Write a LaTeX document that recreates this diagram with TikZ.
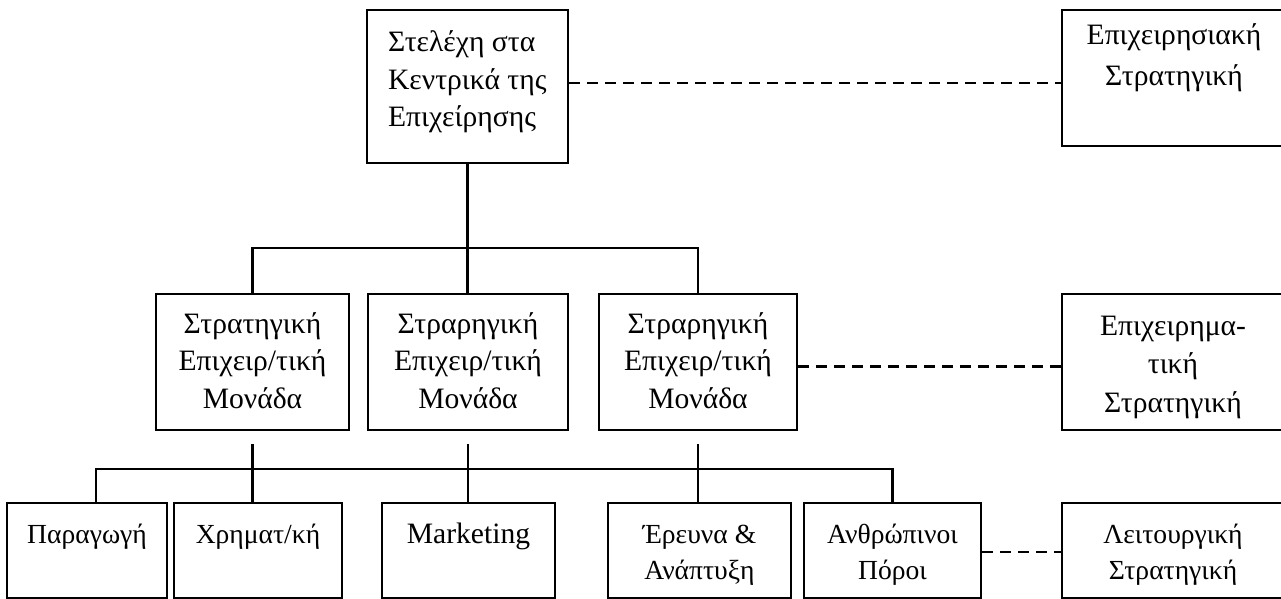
\documentclass[tikz,border=0pt]{standalone}
\usepackage{fontspec}
\setmainfont{Liberation Serif}
\usetikzlibrary{fit}
\begin{document}
% Coordinates are given in pixel-like units (0.5pt each), y pointing down.
% Text nodes are placed by the baseline of their last line.
\begin{tikzpicture}[x=0.5pt, y=-0.5pt,
  line width=1.1pt,
  box/.style={draw, inner sep=0pt, fit={#1}},
  label/.style={inner sep=0pt, align=center, anchor=base,
    font=\fontsize{14.8}{18.75}\selectfont},
  labelleft/.style={label, align=left, anchor=base west,
    font=\fontsize{14.8}{19}\selectfont},
  smalllabel/.style={label, font=\fontsize{13.8}{18}\selectfont},
  biglabel/.style={label, font=\fontsize{14.8}{18}\selectfont},
  dashline/.style={dash pattern=on 5.5pt off 3.5pt}]
\useasboundingbox (0,0) rectangle (1281,599);

% corporate level
\node[box={(367,10) (568,163)}] (T) {};
\node[box={(1062,10) (1284,146)}] (R1) {};
% business units
\node[box={(156,294) (349,430)}] (M1) {};
\node[box={(368,294) (568,430)}] (M2) {};
\node[box={(599,294) (797,430)}] (M3) {};
\node[box={(1062,294) (1284,430)}] (R2) {};
% functional departments
\node[box={(7,503) (167,598)}] (B1) {};
\node[box={(174,503) (342,598)}] (B2) {};
\node[box={(382,503) (555,598)}] (B3) {};
\node[box={(608,503) (791,598)}] (B4) {};
\node[box={(804,503) (981,598)}] (B5) {};
\node[box={(1062,503) (1284,598)}] (B6) {};

% texts
\node[labelleft] (tT) at (387,127) {Στελέχη στα\\Κεντρικά της\\Επιχείρησης};
\node[label, font=\fontsize{14.8}{20.5}\selectfont] (tR1) at (1174,86) {Επιχειρησιακή\\Στρατηγική};
\node[label] (tM1) at (252.5,408) {Στρατηγική\\Επιχειρ/τική\\Μονάδα};
\node[label] (tM2) at (468,408) {Στραρηγική\\Επιχειρ/τική\\Μονάδα};
\node[label] (tM3) at (698,408) {Στραρηγική\\Επιχειρ/τική\\Μονάδα};
\node[label, font=\fontsize{14.8}{19.25}\selectfont] (tR2) at (1173,412) {Επιχειρημα-\\τική\\Στρατηγική};
\node[smalllabel] (tB1) at (87,543) {Παραγωγή};
\node[smalllabel] (tB2) at (258,543) {Χρηματ/κή};
\node[biglabel] (tB3) at (468.5,543) {Marketing};
\node[smalllabel] (tB4) at (699.5,579) {Έρευνα \&\\Ανάπτυξη};
\node[smalllabel] (tB5) at (892.5,579) {Ανθρώπινοι\\Πόροι};
\node[smalllabel] (tB6) at (1173,579) {Λειτουργική\\Στρατηγική};

% hierarchy lines
\draw (T.south) -- (T.south |- M2.north);
\draw (M1.north) -- ++(0,-45) -| (M3.north);
\draw ([yshift=-6.5pt]M1.south) -- (M1.south |- B2.north);
\draw ([yshift=-6.5pt]M2.south) -- (M2.south |- B3.north);
\draw ([yshift=-6.5pt]M3.south) -- (M3.south |- B4.north);
\draw ([xshift=4.5pt]B1.north) -- ++(0,-33) -| (B5.north);

% links to the strategy levels
\draw[dashline] ([yshift=1.75pt]T.east) -- ([yshift=1.75pt]T.east -| R1.west);
\draw[dashline] ([yshift=-2.25pt]M3.east) -- ([yshift=-2.25pt]M3.east -| R2.west);
\draw[dashline] ([yshift=-0.75pt]B5.east) -- ([yshift=-0.75pt]B5.east -| B6.west);
\end{tikzpicture}
\end{document}
